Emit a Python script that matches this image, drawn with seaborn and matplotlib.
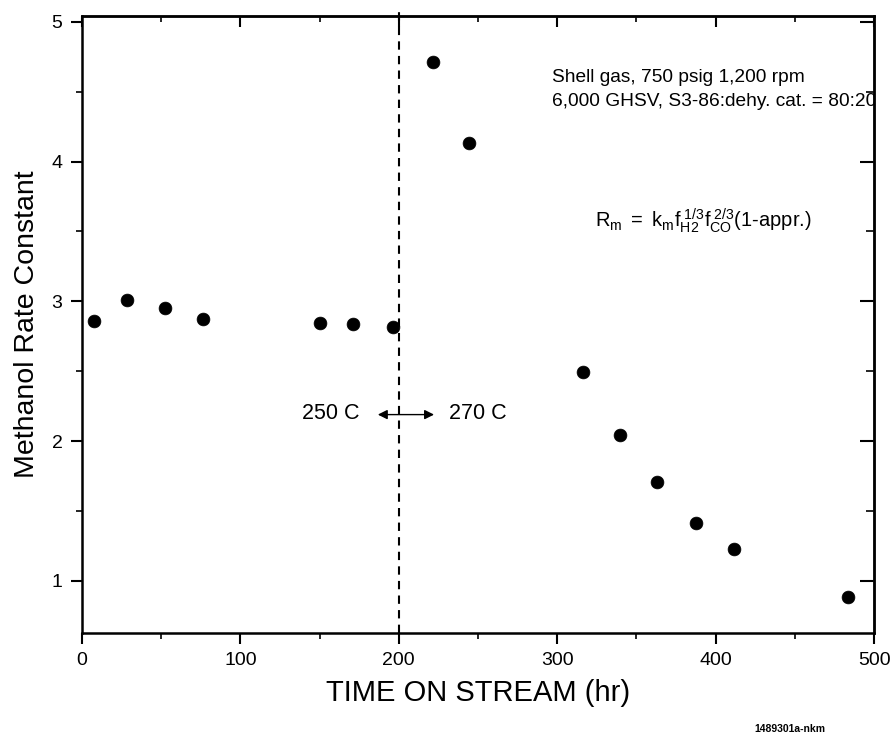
import matplotlib
matplotlib.use("Agg")
import matplotlib.pyplot as plt
import seaborn as sns
import pandas as pd
from matplotlib.ticker import MultipleLocator

# Datos
tiempo = [7.6, 28.2, 52.7, 76.3, 150.3, 171.3, 196.5, 221.4, 244.5,
          316.1, 339.6, 363.2, 387.4, 411.4, 483.4]
constante = [2.86, 3.01, 2.955, 2.877, 2.847, 2.837, 2.82, 4.71, 4.13,
             2.494, 2.041, 1.708, 1.417, 1.227, 0.884]
x_ticks = [0, 100, 200, 300, 400, 500]
y_ticks = [1, 2, 3, 4, 5]

df = pd.DataFrame({'tiempo': tiempo, 'constante': constante})

sns.set_style("ticks")
plt.rcParams['font.family'] = ['Liberation Sans', 'DejaVu Sans']
plt.rcParams['mathtext.fontset'] = 'custom'
plt.rcParams['mathtext.rm'] = 'Liberation Sans'
plt.rcParams['mathtext.it'] = 'Liberation Sans'
plt.rcParams['text.color'] = 'black'
plt.rcParams['axes.labelcolor'] = 'black'
plt.rcParams['xtick.color'] = 'black'
plt.rcParams['ytick.color'] = 'black'

fig = plt.figure(figsize=(8.95, 7.36), dpi=100)
ax = fig.add_axes([0.0916, 0.1404, 0.885, 0.8376])

sns.scatterplot(x='tiempo', y='constante', data=df, ax=ax, color='black',
                edgecolor='black', s=85, linewidth=0.5, zorder=3)

ax.set_xlim(0, 500)
ax.set_ylim(0.63, 5.04)
ax.set_xticks(x_ticks)
ax.set_yticks(y_ticks)
ax.xaxis.set_minor_locator(MultipleLocator(50))
ax.yaxis.set_minor_locator(MultipleLocator(0.5))
ax.tick_params(which='major', direction='out', length=8, width=1.5,
               labelsize=14, pad=6, colors='black')
ax.tick_params(which='minor', direction='out', length=4, width=1.2)
for s in ax.spines.values():
    s.set_linewidth(1.8)
    s.set_color('black')

# Ticks hacia adentro arriba y a la derecha
top = ax.secondary_xaxis('top')
top.set_xticks(x_ticks)
top.xaxis.set_minor_locator(MultipleLocator(50))
top.tick_params(which='major', direction='in', length=8, width=1.5, labeltop=False)
top.tick_params(which='minor', direction='in', length=4, width=1.2)
top.spines['top'].set_linewidth(1.8)
right = ax.secondary_yaxis('right')
right.set_yticks(y_ticks)
right.yaxis.set_minor_locator(MultipleLocator(0.5))
right.tick_params(which='major', direction='in', length=10, width=1.5, labelright=False)
right.tick_params(which='minor', direction='in', length=6, width=1.2)
right.spines['right'].set_linewidth(1.8)

ax.set_xlabel('TIME ON STREAM (hr)', fontsize=21, labelpad=7)
ax.set_ylabel('Methanol Rate Constant', fontsize=20.5, labelpad=8)

ax.axvline(200, ymax=1.015, color='black', linestyle=(0, (4, 3)), linewidth=1.5,
           zorder=2, clip_on=False)
ax.annotate('', xy=(185, 2.19), xytext=(224, 2.19),
            arrowprops=dict(arrowstyle='<|-|>', color='black', lw=1, mutation_scale=14))
ax.text(157, 2.2, '250 C', fontsize=15.5, ha='center', va='center')
ax.text(250, 2.2, '270 C', fontsize=15.5, ha='center', va='center')

ax.text(297, 4.6, 'Shell gas, 750 psig 1,200 rpm', fontsize=13.8, va='center', clip_on=True)
ax.text(297, 4.43, '6,000 GHSV, S3-86:dehy. cat. = 80:20', fontsize=13.8, va='center',
        clip_on=True)
ax.text(324, 3.53,
        r'$\mathrm{R_m\ =\ k_m f_{H2}^{\ 1/3}f_{CO}^{\ 2/3}\text{(1-appr.)}}$',
        fontsize=14.5, va='baseline')

fig.text(0.883, 0.006, '1489301a-nkm', fontsize=7.5, fontweight='bold', ha='center')

plt.savefig('out.png', dpi=100)
